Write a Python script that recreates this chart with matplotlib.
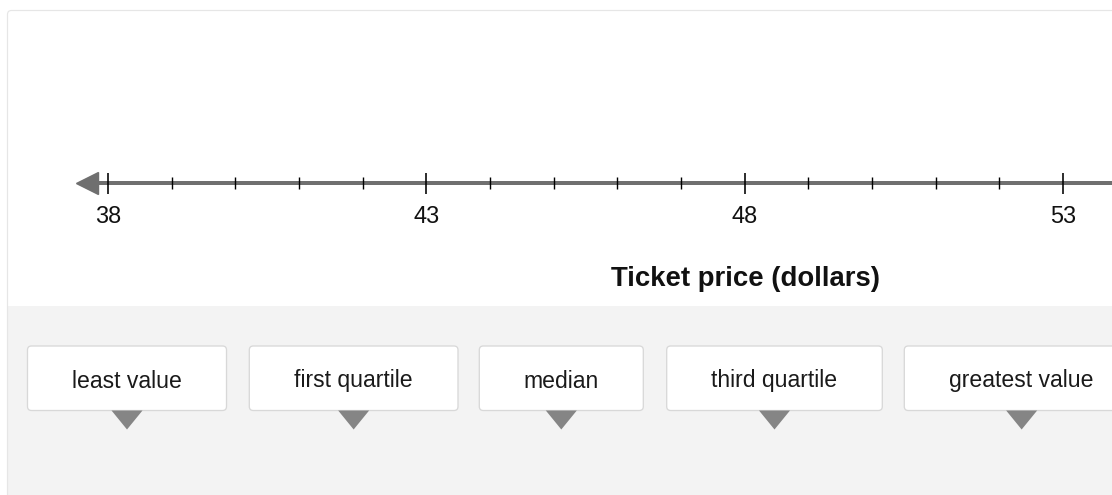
#!/usr/bin/env python3
"""Number line for ticket prices with box-plot label buttons underneath."""

import matplotlib
matplotlib.use("Agg")
import matplotlib.pyplot as plt
from matplotlib.patches import FancyBboxPatch, Rectangle, Polygon

plt.rcParams['font.family'] = ['Liberation Sans', 'DejaVu Sans']

# --- data -------------------------------------------------------------
major_ticks = [38, 43, 48, 53]
minor_ticks = [39, 40, 41, 42, 44, 45, 46, 47, 49, 50, 51, 52]
axis_title = "Ticket price (dollars)"
button_labels = ["least value", "first quartile", "median",
                 "third quartile", "greatest value"]

# --- layout (pixels) --------------------------------------------------
W, H, DPI = 1112, 495, 100
PX = 72.0 / DPI                       # points per pixel
line_y = 183
x0_px, unit_px = 108, (1063 - 108) / 15.0
button_lefts = [27.5, 249.3, 479.3, 666.7, 904.3]
button_rights = [226.5, 458.0, 643.3, 882.3, 1139.0]
button_top, button_bottom = 346, 410.5

LINE_GREY = '#6f6f6f'
PANEL_GREY = '#f3f3f3'

fig = plt.figure(figsize=(W / DPI, H / DPI), dpi=DPI)

# background axes in pixel coordinates
bg = fig.add_axes([0, 0, 1, 1])
bg.set_xlim(0, W)
bg.set_ylim(H, 0)
bg.axis('off')

frame_kw = dict(boxstyle='round,pad=0,rounding_size=4')
bg.add_patch(FancyBboxPatch((7.5, 10.5), 1300, 700, fc='white', ec='none', **frame_kw))
bg.add_patch(Rectangle((7.5, 306), 1300, 300, fc=PANEL_GREY, ec='none'))
bg.add_patch(FancyBboxPatch((7.5, 10.5), 1300, 700, fc='none', ec='#e6e6e6',
                            lw=1.2 * PX, **frame_kw))

fig.text(745 / W, 1 - 286 / H, axis_title, ha='center', va='baseline',
         fontsize=27.5 * PX, fontweight='bold', color='#111111')

# buttons with a pointer triangle under each
for lab, l, r in zip(button_labels, button_lefts, button_rights):
    cx = (l + r) / 2
    bg.add_patch(FancyBboxPatch((l, button_top), r - l, button_bottom - button_top,
                                boxstyle='round,pad=0,rounding_size=4',
                                fc='white', ec='#d8d8d8', lw=1.3 * PX, zorder=3))
    bg.text(cx, 387.5, lab, ha='center', va='baseline', fontsize=23 * PX,
            color='#1a1a1a', zorder=5)
    bg.add_patch(Polygon([[cx - 15.5, button_bottom], [cx + 15.5, button_bottom],
                          [cx, button_bottom + 19]],
                         closed=True, fc='#858585', ec='none', zorder=4))

# number line axes: bottom spine sits on line_y
xmin = major_ticks[0] - x0_px / unit_px
xmax = major_ticks[0] + (W - x0_px) / unit_px
ax = fig.add_axes([0, 1 - line_y / H, 1, 0.05])
ax.patch.set_visible(False)
for s in ('top', 'left', 'right'):
    ax.spines[s].set_visible(False)
ax.set_yticks([])
ax.set_xticks(major_ticks)
ax.set_xticklabels([str(v) for v in major_ticks])
ax.set_xticks(minor_ticks, minor=True)
ax.set_xlim(xmin, xmax)
ax.set_ylim(0, 1)

arrow_x = major_ticks[0] - 21.5 / unit_px
ax.spines['bottom'].set_bounds(arrow_x, xmax + 1)
ax.spines['bottom'].set_color(LINE_GREY)
ax.spines['bottom'].set_linewidth(4 * PX)
ax.spines['bottom'].set_zorder(1)
ax.xaxis.set_zorder(2)
ax.tick_params(axis='x', which='major', direction='inout', length=21 * PX,
               width=1.6 * PX, color='black', labelsize=23.5 * PX,
               pad=11.5 * PX, labelcolor='#111111')
ax.tick_params(axis='x', which='minor', direction='inout', length=12 * PX,
               width=1.4 * PX, color='black')
ax.plot([arrow_x], [0], marker='<', markersize=23 * PX, color=LINE_GREY,
        clip_on=False, zorder=3)
ax.set_xlim(xmin, xmax)

fig.savefig('out.png', dpi=DPI)
